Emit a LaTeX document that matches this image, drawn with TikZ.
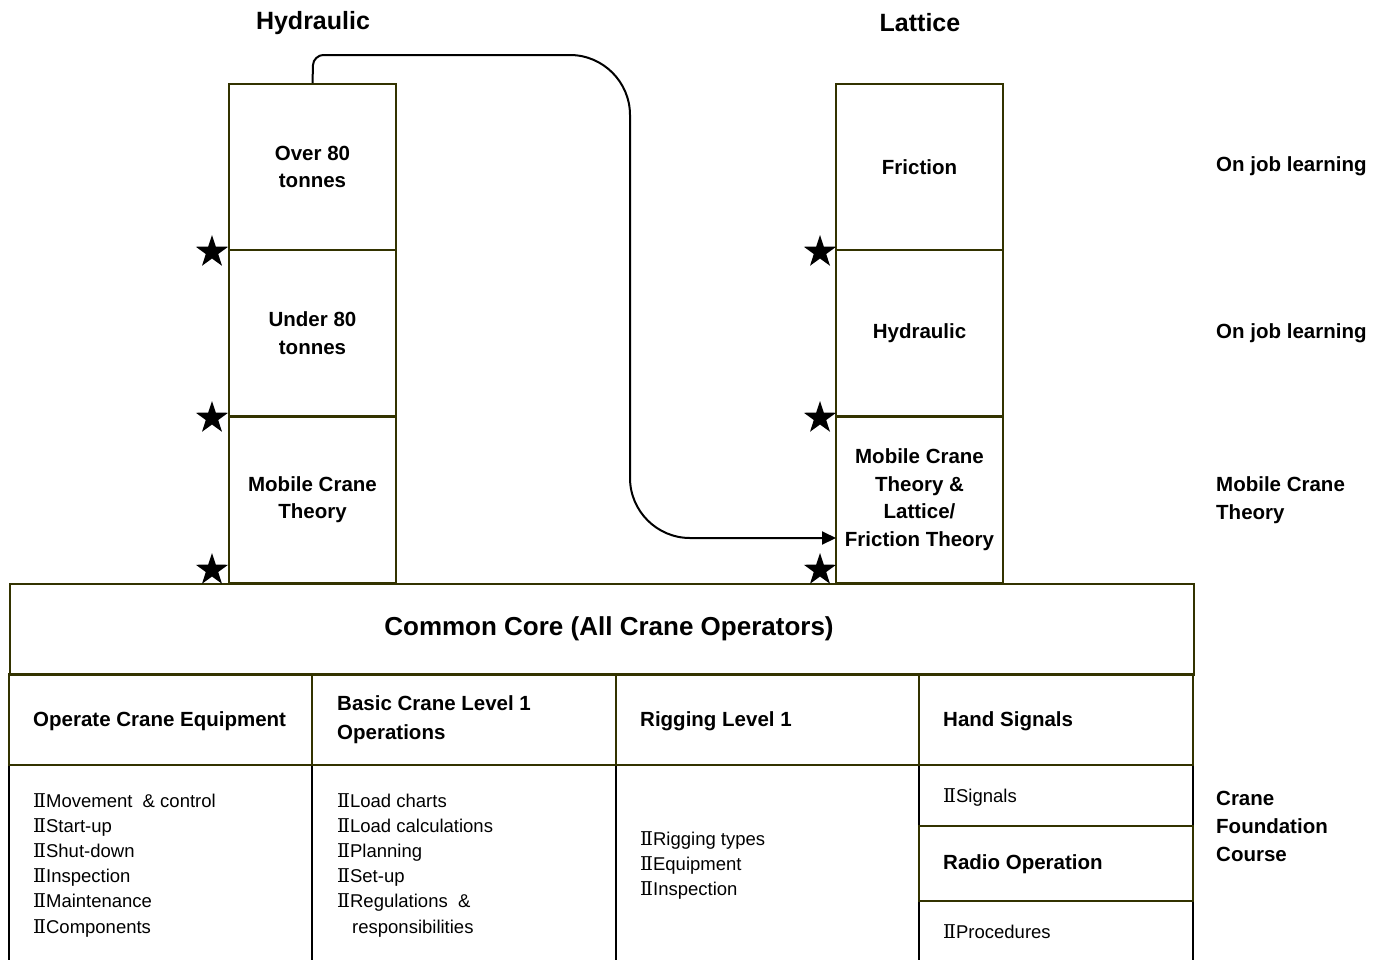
\documentclass[tikz,border=0pt]{standalone}
\usepackage{fontspec}
\setmainfont{Liberation Sans}
\newfontfamily\bulletfont{DejaVu Serif}
\usetikzlibrary{shapes.geometric,arrows.meta}
\definecolor{olive}{RGB}{51,51,0}
\newcommand{\bul}{{\bulletfont\fontsize{19}{19}\selectfont Ⅱ}}
\tikzset{
  colbox/.style={draw=olive, line width=2pt, minimum width=167pt, minimum height=166pt, inner sep=0pt, align=center, font=\fontsize{20.5}{27.5}\selectfont\bfseries},
  hdrbox/.style={draw=olive, line width=2pt, inner sep=0pt},
  cellbox/.style={draw=black, line width=1.4pt},
  hdrtext/.style={anchor=west, align=left, inner sep=0pt, font=\fontsize{20.5}{29}\selectfont\bfseries},
  listtext/.style={anchor=north west, align=left, inner sep=0pt, font=\fontsize{18.5}{25.2}\selectfont},
  sidetext/.style={anchor=west, align=left, inner sep=0pt, font=\fontsize{20.5}{28}\selectfont\bfseries},
  titletext/.style={inner sep=0pt, font=\fontsize{25}{30}\selectfont\bfseries},
  starmark/.style={star, star points=5, star point ratio=2.6, fill=black, inner sep=0pt, minimum size=34pt},
  flow/.style={line width=2pt, -{Triangle[length=14pt,width=13pt]}}
}
\begin{document}
\begin{tikzpicture}[x=1pt,y=-1pt]
\useasboundingbox (0,0) rectangle (1386,959);
\clip (0,0) rectangle (1386,959);
% lower cells
\draw[cellbox] (9,765) rectangle (312,975);
\draw[cellbox] (312,765) rectangle (616,975);
\draw[cellbox] (616,765) rectangle (919,975);
\draw[cellbox] (919,765) rectangle (1193,826);
\draw[cellbox] (919,901) rectangle (1193,975);
% header cells
\node[hdrbox, minimum width=1184pt, minimum height=91pt, anchor=north west] (core) at (9,583) {};
\node[inner sep=0pt, font=\fontsize{26}{30}\selectfont\bfseries] (coretxt) at (609,629) {Common Core (All Crane Operators)};
\draw[hdrbox] (9,674) rectangle (312,765);
\draw[hdrbox] (312,674) rectangle (616,765);
\draw[hdrbox] (616,674) rectangle (919,765);
\draw[hdrbox] (919,674) rectangle (1193,765);
\draw[hdrbox] (919,826) rectangle (1193,901);
\node[hdrtext] (h1) at (33,721) {Operate Crane Equipment};
\node[hdrtext] (h2) at (337,720) {Basic Crane Level 1\\Operations};
\node[hdrtext] (h3) at (640,721) {Rigging Level 1};
\node[hdrtext] (h4) at (943,721) {Hand Signals};
\node[hdrtext] (h5) at (943,864) {Radio Operation};
% lists
\node[listtext] (l1) at (33,793) {\bul Movement \ \& control\\\bul Start-up\\\bul Shut-down\\\bul Inspection\\\bul Maintenance\\\bul Components};
\node[listtext] (l2) at (337,793) {\bul Load charts\\\bul Load calculations\\\bul Planning\\\bul Set-up\\\bul Regulations \ \&\\\hspace*{15pt}responsibilities};
\node[listtext] (l3) at (640,831) {\bul Rigging types\\\bul Equipment\\\bul Inspection};
\node[listtext] (l4) at (943,788) {\bul Signals};
\node[listtext] (l5) at (943,924) {\bul Procedures};
% columns
\node[colbox] (ov) at (312.5,167) {Over 80\\tonnes};
\node[colbox] (un) at (312.5,333) {Under 80\\tonnes};
\node[colbox] (mct) at (312.5,499.5) {Mobile Crane\\Theory};
\node[colbox] (fr) at (919.5,167) {Friction};
\node[colbox] (hy) at (919.5,333) {Hydraulic};
\node[colbox] (mct2) at (919.5,499.5) {Mobile Crane\\Theory \&\\Lattice/\\Friction Theory};
% titles
\node[titletext] (t1) at (313,23) {Hydraulic};
\node[titletext] (t2) at (920,23) {Lattice};
% side labels
\node[sidetext] (s1) at (1216,166) {On job learning};
\node[sidetext] (s2) at (1216,333) {On job learning};
\node[sidetext] (s3) at (1216,500) {Mobile Crane\\Theory};
\node[sidetext] (s4) at (1216,826) {Crane\\Foundation\\Course};
% stars
\node[starmark] (st1) at (212,252) {};
\node[starmark] (st2) at (212,418) {};
\node[starmark] (st3) at (212,570) {};
\node[starmark] (st4) at (820,252) {};
\node[starmark] (st5) at (820,418) {};
\node[starmark] (st6) at (820,570) {};
% connector
\coordinate (aend) at (836,538);
\draw[flow] (ov.north) -- (313,65) .. controls (313,59.5) and (318.5,55) .. (323,55) -- (570,55) .. controls (603,55) and (630,82) .. (630,115) -- (630,478) .. controls (630,511) and (657,538) .. (690,538) -- (aend);
\end{tikzpicture}
\end{document}
